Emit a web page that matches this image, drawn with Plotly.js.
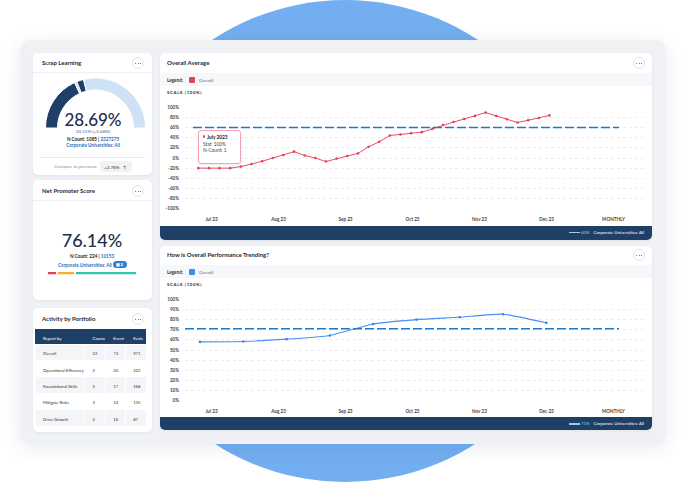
<!DOCTYPE html>
<html><head><meta charset="utf-8">
<script src="https://cdn.plot.ly/plotly-3.0.1.min.js"></script>
<style>
body{margin:0;width:686px;height:485px;overflow:hidden;background:#fff;font-family:Lato,'Open Sans',sans-serif;position:relative}
.abs{position:absolute}
.card{position:absolute;background:#fff;border-radius:5px;box-shadow:0 1px 3px rgba(30,50,80,0.07);overflow:hidden}
.t{position:absolute;white-space:nowrap;line-height:1;z-index:10}
.btn{position:absolute;width:10px;height:10px;border:1px solid #e1e5ea;border-radius:50%;background:#fff;z-index:10}
.btn i{position:absolute;top:4.5px;width:1px;height:1px;border-radius:50%;background:#555}
#plot{position:absolute;left:0;top:0;width:686px;height:485px;z-index:5}
</style></head><body>
<div class="abs" style="left:104px;top:0;width:482px;height:482px;border-radius:50%;background:#73aef0"></div>
<div class="abs" style="left:20px;top:40px;width:646px;height:404px;border-radius:10px;background:#eff1f5;box-shadow:0 4px 18px rgba(40,60,90,0.10)"></div>
<div class="card" style="left:33px;top:53px;width:119px;height:122px"></div>
<div class="card" style="left:33px;top:180px;width:119px;height:120px"></div>
<div class="card" style="left:33px;top:308px;width:119px;height:124px"></div>
<div class="card" style="left:160px;top:53px;width:492px;height:187px">
  <div class="abs" style="left:0;top:20px;width:492px;height:13px;background:#f5f7fa"></div>
  <div class="abs" style="left:0;top:173px;width:492px;height:14px;background:#1e4066"></div>
</div>
<div class="card" style="left:160px;top:246px;width:492px;height:184px">
  <div class="abs" style="left:0;top:19px;width:492px;height:13px;background:#f5f7fa"></div>
  <div class="abs" style="left:0;top:171px;width:492px;height:13px;background:#1e4066"></div>
</div>
<div id="plot"></div>
<script>
// ---------- data ----------
const scrapValue = '28.69%';
const scrapPrev = '20.15%';
const scrapDelta = '(+5.06%)';
const scrapN = '1085';
const scrapTotal = '2327275';
const scrapCompare = '+2.78%';
const gaugeSegments = [36.3, 1.5, 4.5, 57.7];
const gaugeColors = ['#1e3f66', '#cfe2f5', '#1e3f66', '#cfe2f5'];

const npsValue = '76.14%';
const npsN = '224';
const npsTotal = '10153';
const npsSegments = [11, 19, 67];
const npsColors = ['#e63c55', '#f5ae35', '#2ec4b0'];

const tableHeader = ['Report by', 'Course', 'Event', 'Evals'];
const portfolios = ['Overall', 'Operational Efficiency', 'Foundational Skills', 'Mitigate Risks', 'Drive Growth'];
const courseCounts = [22, 2, 5, 3, 2];
const eventCounts = [73, 20, 17, 14, 16];
const evalCounts = [971, 222, 168, 135, 87];

const monthLabels = ['Jul 23', 'Aug 23', 'Sep 23', 'Oct 23', 'Nov 23', 'Dec 23', 'MONTHLY'];
const avgValues = [-20, -20, -20, -20, -17, -12, -6.5, 0, 6, 12.5, 5, 0, -7, -1, 4, 9, 22, 32, 44.5, 46.5, 49, 51,
                   57.5, 65, 71, 77, 83, 89.6, 83, 76.5, 70, 74.5, 79, 84];
const avgTarget = 60;
const avgTicks = [-100, -80, -60, -40, -20, 0, 20, 40, 60, 80, 100];
const trendValues = [58, 58.4, 60.7, 64.3, 75.7, 80, 82.3, 85.3, 76.8];
const trendTarget = 71;
const trendTicks = [0, 10, 20, 30, 40, 50, 60, 70, 80, 90, 100];

// ---------- html text ----------
function T(x, y, txt, o) {
  o = o || {};
  const s = document.createElement('div');
  s.className = 't';
  s.style.left = x + 'px'; s.style.top = y + 'px';
  s.style.fontSize = (o.size || 4.6) + 'px';
  s.style.fontWeight = o.w || 400;
  s.style.color = o.c || '#333';
  const ax = o.a === 'm' ? '-50%' : o.a === 'r' ? '-100%' : '0';
  s.style.transform = 'translate(' + ax + ',-50%)';
  if (o.ls) s.style.letterSpacing = o.ls + 'px';
  s.innerHTML = txt;
  document.body.appendChild(s);
  return s;
}
function box(x, y, w, h, css) {
  const d = document.createElement('div');
  d.className = 'abs';
  d.style.cssText += 'left:' + x + 'px;top:' + y + 'px;width:' + w + 'px;height:' + h + 'px;z-index:9;' + (css || '');
  document.body.appendChild(d);
  return d;
}
function btn(cx, cy) {
  const b = document.createElement('div');
  b.className = 'btn'; b.style.left = Math.round(cx - 6) + 'px'; b.style.top = Math.round(cy - 6) + 'px';
  b.innerHTML = '<i style="left:2px"></i><i style="left:4.5px"></i><i style="left:7px"></i>';
  document.body.appendChild(b);
}
const BLUE = '#2a6fc0', DARK = '#1b2a3a', NAVY = '#1b2f4d';

// Scrap learning
T(42, 63, 'Scrap Learning', {size: 6, w: 700, c: DARK}); btn(137.5, 63);
box(33, 72, 119, 0.6, 'background:#eef0f3');
T(93, 118.5, scrapValue, {size: 17, w: 500, c: NAVY, a: 'm'});
T(93, 131, '<span style="color:' + BLUE + '">' + scrapPrev + '</span> ' + scrapDelta, {size: 4.6, c: '#555', a: 'm'});
T(93, 138.5, 'N Count: ' + scrapN + ' | <span style="color:' + BLUE + '">' + scrapTotal + '</span>', {size: 4.6, w: 700, c: '#222', a: 'm'});
T(93, 144.5, 'Corporate Universities: All', {size: 4.6, w: 700, c: BLUE, a: 'm'});
box(40, 157, 105, 0.6, 'background:#e9ecf0');
T(54, 166, 'Compare to previous:', {size: 4.6, c: '#8a8f96'});
box(100, 161, 32, 11, 'background:#f0f2f5;border-radius:3px');
T(104, 166.5, scrapCompare + '&nbsp;&nbsp;&nbsp;&#8593;', {size: 4.6, c: '#333'});

// NPS
T(42, 191, 'Net Promoter Score', {size: 6, w: 700, c: DARK}); btn(137.5, 191);
box(33, 200, 119, 0.6, 'background:#eef0f3');
T(92, 240, npsValue, {size: 18, w: 500, c: NAVY, a: 'm'});
T(92, 256, 'N Count: ' + npsN + ' | <span style="color:' + BLUE + '">' + npsTotal + '</span>', {size: 4.6, w: 700, c: '#222', a: 'm'});
T(58, 264.5, 'Corporate Universities: All', {size: 4.6, w: 700, c: BLUE});
box(113, 261, 14, 7, 'background:#2f7fd0;border-radius:4px');
T(115.5, 264.6, '&#9638; 2', {size: 4.4, w: 700, c: '#fff'});

// Activity
T(42, 319, 'Activity by Portfolio', {size: 6, w: 700, c: DARK}); btn(137.5, 319);

// Overall average card
T(167, 63, 'Overall Average', {size: 6, w: 700, c: DARK}); btn(639, 63);
T(167, 79.5, 'Legend:', {size: 4.6, w: 700, c: '#333'});
box(189, 76.5, 6, 6, 'background:#e8415a;border-radius:1px');
T(199, 79.5, 'Overall', {size: 4.6, c: '#666'});
T(167, 93, 'SCALE (100%)', {size: 4.4, w: 700, c: '#333', ls: 0.6});
box(569, 231.5, 11, 1.5, 'background:#9ec9ef');
T(581, 232.5, avgTarget + '%', {size: 4.4, c: '#9ec9ef'});
T(644, 232.5, 'Corporate Universities: All', {size: 4.4, c: '#fff', a: 'r'});
box(198, 130, 43, 34, 'background:#fff;border:1px solid #f5a3b3;border-radius:3px;box-sizing:border-box;box-shadow:0 1px 3px rgba(0,0,0,0.08);z-index:11');
box(202.5, 135.3, 2.4, 2.4, 'background:#e8415a;border-radius:50%;z-index:12');
[['July 2023', 207, 136.5, 700, '#222'], ['Stat: 100%', 203, 144, 400, '#444'], ['N-Count: 1', 203, 150, 400, '#444']].forEach(r => {
  const s = T(r[1], r[2], r[0], {size: 4.8, w: r[3], c: r[4]}); s.style.zIndex = 12;
});

// Trending card
T(167, 255, 'How is Overall Performance Trending?', {size: 6, w: 700, c: DARK}); btn(639, 255);
T(167, 271.5, 'Legend:', {size: 4.6, w: 700, c: '#333'});
box(189, 268.5, 6, 6, 'background:#3d8ef0;border-radius:1px');
T(199, 271.5, 'Overall', {size: 4.6, c: '#666'});
T(167, 285, 'SCALE (100%)', {size: 4.4, w: 700, c: '#333', ls: 0.6});
box(569, 423, 11, 1.5, 'background:#9ec9ef');
T(581, 424, trendTarget + '%', {size: 4.4, c: '#9ec9ef'});
T(644, 424, 'Corporate Universities: All', {size: 4.4, c: '#fff', a: 'r'});

// ---------- plotly ----------
const W = 686, H = 485;
const dx = (a, b) => [a / W, b / W];
const dy = (top, bottom) => [1 - bottom / H, 1 - top / H];
const tickFont = {family: 'Lato', size: 4.6, color: '#444', weight: 700};

const gaugeTotal = gaugeSegments.reduce((a, b) => a + b, 0);
const rowFill = portfolios.map((_, i) => i % 2 === 0 ? '#f3f5f8' : '#ffffff');
const noWrap = s => String(s).replace(/ /g, '\u00a0');

const avgTickVals = monthLabels.map((_, k) => 1.24 + 6.297 * k);
const trendTickVals = monthLabels.map((_, k) => 0.266 + 1.547 * k);

const traces = [
  {type: 'pie', values: gaugeSegments.concat([gaugeTotal]),
   marker: {colors: gaugeColors.concat(['rgba(0,0,0,0)']), line: {color: '#fff', width: [1, 1, 1, 1, 0]}},
   hole: 0.76, rotation: -90, direction: 'clockwise', sort: false, textinfo: 'none', hoverinfo: 'skip',
   domain: {x: dx(45.5, 145.5), y: dy(78, 178)}, showlegend: false},
  ...npsSegments.map((v, i) => ({type: 'bar', orientation: 'h', x: [v], y: ['nps'], xaxis: 'x3', yaxis: 'y3',
   marker: {color: npsColors[i], line: {color: '#fff', width: 1.5}}, width: 1, hoverinfo: 'skip'})),
  {type: 'table', domain: {x: dx(35, 147), y: dy(329, 428)}, columnwidth: [50, 21, 20, 21],
   header: {values: tableHeader.map(noWrap), fill: {color: '#1e4066'}, font: {family: 'Lato', color: '#fff', size: 4.3}, height: 15, align: 'left', line: {width: 0, color: '#1e4066'}},
   cells: {values: [portfolios.map(noWrap), courseCounts, eventCounts, evalCounts], height: 16.4,
     fill: {color: [rowFill, rowFill, rowFill, rowFill]}, font: {family: 'Lato', color: '#333', size: 4.2}, align: 'left', line: {color: '#fff', width: 1}}},
  {type: 'scatter', mode: 'lines+markers', y: avgValues, xaxis: 'x', yaxis: 'y',
   line: {color: '#ec4d67', width: 1}, marker: {color: '#e8415a', size: 2.6}, hoverinfo: 'skip'},
  {type: 'scatter', mode: 'lines+markers', y: trendValues, xaxis: 'x2', yaxis: 'y2',
   line: {color: '#4b8ff0', width: 1.1, shape: 'spline', smoothing: 0.5}, marker: {color: '#3d86ea', size: 2.6}, hoverinfo: 'skip'}
];

const gridAxis = {showgrid: true, gridcolor: '#e4e8ee', griddash: 'dot', gridwidth: 0.8, zeroline: false, showline: false,
  ticks: '', tickfont: tickFont, ticklabelstandoff: 5, fixedrange: true, tickmode: 'array'};
const monthAxis = {showgrid: false, zeroline: false, showline: false, ticks: '', tickfont: tickFont, ticklabelstandoff: 6, fixedrange: true, tickmode: 'array', ticktext: monthLabels};

const layout = {
  width: W, height: H, margin: {l: 0, r: 0, t: 0, b: 0}, paper_bgcolor: 'rgba(0,0,0,0)', plot_bgcolor: 'rgba(0,0,0,0)',
  showlegend: false, barmode: 'stack', font: {family: 'Lato'},
  xaxis: Object.assign({}, monthAxis, {domain: dx(185, 645), range: [-1.25, 41.98], tickvals: avgTickVals, anchor: 'y'}),
  yaxis: Object.assign({}, gridAxis, {domain: dy(107, 209), range: [-100.6, 100.6], tickvals: avgTicks, ticktext: avgTicks.map(v => v + '%'), anchor: 'x'}),
  xaxis2: Object.assign({}, monthAxis, {domain: dx(185, 645), range: [-0.346, 10.277], tickvals: trendTickVals, anchor: 'y2'}),
  yaxis2: Object.assign({}, gridAxis, {domain: dy(299, 401), range: [-0.3, 100.3], tickvals: trendTicks, ticktext: trendTicks.map(v => v + '%'), anchor: 'x2'}),
  xaxis3: {domain: dx(47, 137), range: [0, npsSegments.reduce((a, b) => a + b, 0)], visible: false, fixedrange: true, anchor: 'y3'},
  yaxis3: {domain: dy(271.5, 274.5), visible: false, fixedrange: true, anchor: 'x3'},
  shapes: [
    {type: 'line', xref: 'x domain', yref: 'y', x0: 8 / 460, x1: 434 / 460, y0: avgTarget, y1: avgTarget, line: {color: '#1f78c8', width: 1.5, dash: '9px,3px'}},
    {type: 'line', xref: 'x2 domain', yref: 'y2', x0: 0, x1: 434 / 460, y0: trendTarget, y1: trendTarget, line: {color: '#1f78c8', width: 1.5, dash: '9px,3px'}}
  ]
};
Plotly.newPlot('plot', traces, layout, {staticPlot: true, displayModeBar: false});
</script>
</body></html>
